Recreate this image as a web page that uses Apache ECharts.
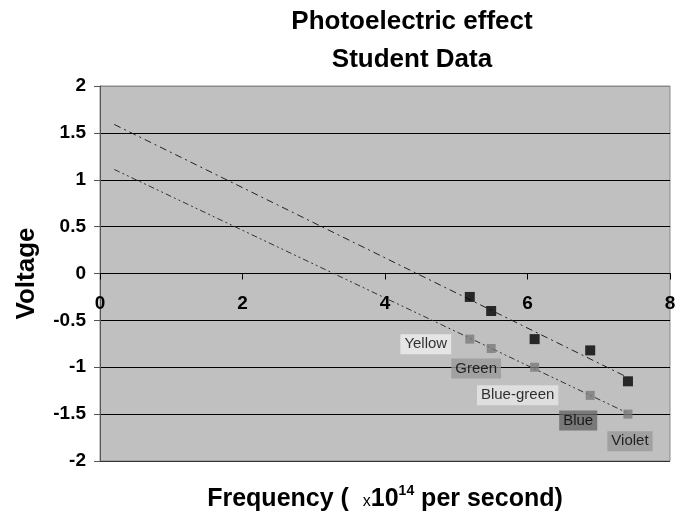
<!DOCTYPE html>
<html><head><meta charset="utf-8">
<script src="https://cdn.jsdelivr.net/npm/echarts@6/dist/echarts.min.js"></script>
<style>html,body{margin:0;padding:0;background:#fff}#c{width:677px;height:516px}</style>
</head><body><div id="c"></div>
<script>
// Data
const colorNames = ['Yellow', 'Green', 'Blue-green', 'Blue', 'Violet'];
const frequency = [5.19, 5.49, 6.10, 6.88, 7.41];          // x10^14 Hz
const voltageUpper = [-0.25, -0.40, -0.70, -0.82, -1.15];  // black points
const voltageLower = [-0.70, -0.80, -1.00, -1.30, -1.50];  // grey points
const trendX = [0.2, 7.41];
const trendUpper = [1.59, -1.11];
const trendLower = [1.11, -1.49];
const xTicks = [0, 2, 4, 6, 8];
const yTicks = [-2, -1.5, -1, -0.5, 0, 0.5, 1, 1.5, 2];

// label styling (kept separate from data)
const labelBg = ['#eeeeee', '#999999', '#e6e6e6', '#666666', '#999999'];
const labelOffset = [[-44, 5], [-15, 20], [-17, 28], [-12, 25], [2, 27]];

const F = 'Arial, "Liberation Sans", sans-serif';
const GRID_TOP = 86, GRID_BOTTOM = 55, H = 516;
const plotH = H - GRID_TOP - GRID_BOTTOM;
// shift the x axis from the bottom edge up to the y = 0 line
const zeroShift = plotH * (0 - yTicks[0]) / (yTicks[yTicks.length - 1] - yTicks[0]);

const chart = echarts.init(document.getElementById('c'));
chart.setOption({
  animation: false,
  backgroundColor: '#ffffff',
  title: {
    text: 'Photoelectric effect\nStudent Data',
    left: 407, top: -2, textAlign: 'center',
    textStyle: { fontFamily: F, fontSize: 26, fontWeight: 'bold', color: '#000', lineHeight: 38 }
  },
  grid: { left: 100, right: 7, top: GRID_TOP, bottom: GRID_BOTTOM, outerBoundsMode: 'none', containLabel: false,
          show: true, backgroundColor: '#c0c0c0', borderColor: '#8a8a8a', borderWidth: 1 },
  xAxis: {
    type: 'value', min: xTicks[0], max: xTicks[xTicks.length - 1], interval: 2,
    position: 'bottom', offset: -zeroShift,
    axisLine: { onZero: false, lineStyle: { color: '#000', width: 1 } },
    axisTick: { show: true, length: 6, lineStyle: { color: '#000' } },
    axisLabel: { fontFamily: F, fontSize: 19, fontWeight: 'bold', color: '#000', margin: 21 },
    splitLine: { show: false },
    name: '{b|Frequency (  }{s|x}{b|10}{sup|14}{b| per second)}',
    nameLocation: 'middle', nameGap: zeroShift + 23,
    nameTextStyle: {
      rich: {
        b: { fontFamily: F, fontSize: 25, fontWeight: 'bold', color: '#000' },
        s: { fontFamily: F, fontSize: 16, color: '#000', padding: [5, 0, 0, 0] },
        sup: { fontFamily: F, fontSize: 14, fontWeight: 'bold', color: '#000', padding: [0, 0, 16, 0] }
      }
    }
  },
  yAxis: {
    type: 'value', min: yTicks[0], max: yTicks[yTicks.length - 1], interval: 0.5,
    axisLine: { show: true, lineStyle: { color: '#555', width: 1 } },
    axisTick: { show: true, length: 6, lineStyle: { color: '#555' } },
    axisLabel: { fontFamily: F, fontSize: 19, fontWeight: 'bold', color: '#000', margin: 14 },
    splitLine: { show: true, lineStyle: { color: ['#333', '#000', '#000', '#000', '#000', '#000', '#000', '#000', '#8a8a8a'], width: 1 } },
    name: 'Voltage', nameLocation: 'middle', nameGap: 60,
    nameTextStyle: { fontFamily: F, fontSize: 26, fontWeight: 'bold', color: '#000' }
  },
  series: [
    {
      type: 'line', data: trendX.map((x, i) => [x, trendUpper[i]]), symbol: 'none',
      lineStyle: { color: '#222', width: 1, type: [7, 4, 2, 4] }, z: 2
    },
    {
      type: 'line', data: trendX.map((x, i) => [x, trendLower[i]]), symbol: 'none',
      lineStyle: { color: '#333', width: 1, type: [6, 3, 2, 3, 2, 3] }, z: 2
    },
    {
      type: 'scatter', symbol: 'rect', symbolSize: 10,
      itemStyle: { color: '#000' },
      data: frequency.map((x, i) => [x, voltageUpper[i]]), z: 3
    },
    {
      type: 'scatter', symbol: 'rect', symbolSize: 9,
      itemStyle: { color: '#7a7a7a' },
      data: frequency.map((x, i) => ({
        value: [x, voltageLower[i]],
        label: {
          show: true, formatter: colorNames[i], position: 'inside',
          offset: labelOffset[i], backgroundColor: labelBg[i], padding: [3, 4, 2, 4],
          fontFamily: F, fontSize: 15, color: '#000'
        }
      })), z: 3
    }
  ]
});
</script></body></html>
